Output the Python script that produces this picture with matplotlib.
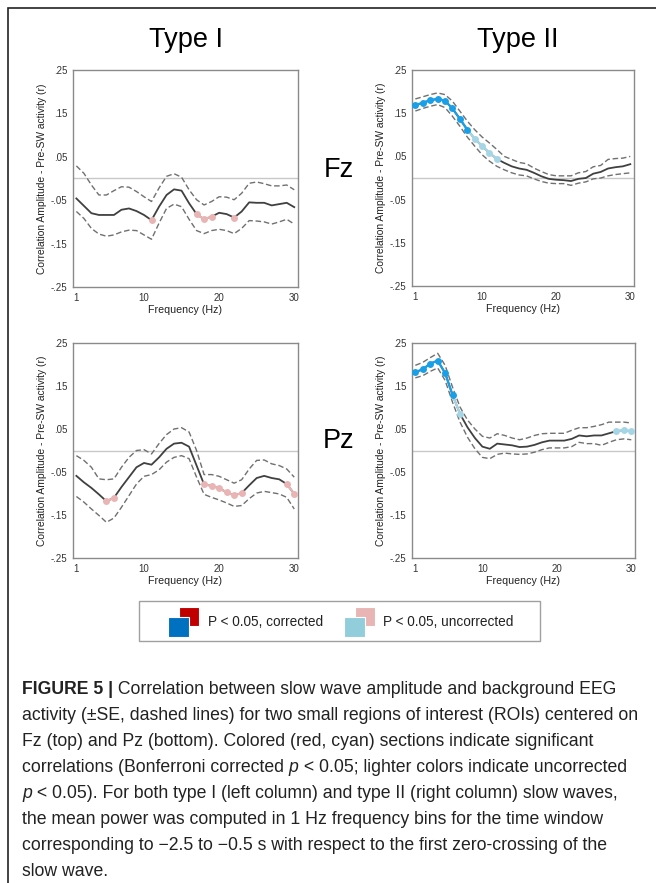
import matplotlib
matplotlib.use("Agg")
import matplotlib.pyplot as plt
from matplotlib.patches import Rectangle

plt.rcParams["font.family"] = ["Liberation Sans", "DejaVu Sans"]

W, H = 656, 883

freqs = list(range(1, 31))

# mean correlation and +/- SE bounds
fz_t1_mean = [-0.046, -0.063, -0.080, -0.084, -0.084, -0.084, -0.072, -0.069, -0.075, -0.084,
              -0.096, -0.065, -0.038, -0.025, -0.028, -0.057, -0.082, -0.094, -0.088, -0.079,
              -0.082, -0.090, -0.076, -0.055, -0.056, -0.056, -0.062, -0.059, -0.056, -0.066]
fz_t1_hi = [0.029, 0.012, -0.015, -0.038, -0.038, -0.028, -0.019, -0.020, -0.030, -0.042,
            -0.053, -0.022, 0.005, 0.011, 0.003, -0.026, -0.049, -0.061, -0.053, -0.042,
            -0.043, -0.049, -0.034, -0.011, -0.008, -0.012, -0.017, -0.017, -0.015, -0.026]
fz_t1_lo = [-0.076, -0.092, -0.115, -0.128, -0.133, -0.130, -0.123, -0.119, -0.120, -0.130,
            -0.140, -0.103, -0.069, -0.059, -0.065, -0.094, -0.120, -0.127, -0.120, -0.117,
            -0.120, -0.127, -0.115, -0.097, -0.098, -0.100, -0.105, -0.100, -0.094, -0.105]

fz_t2_mean = [0.169, 0.174, 0.180, 0.183, 0.179, 0.161, 0.137, 0.112, 0.091, 0.074,
              0.058, 0.044, 0.035, 0.027, 0.022, 0.019, 0.012, 0.004, -0.002, -0.004,
              -0.005, -0.007, -0.002, 0.000, 0.010, 0.014, 0.022, 0.025, 0.027, 0.032]
fz_t2_hi = [0.183, 0.188, 0.193, 0.197, 0.193, 0.178, 0.155, 0.132, 0.112, 0.095,
            0.081, 0.066, 0.050, 0.043, 0.036, 0.033, 0.023, 0.015, 0.008, 0.005,
            0.005, 0.005, 0.012, 0.015, 0.026, 0.029, 0.043, 0.045, 0.046, 0.050]
fz_t2_lo = [0.155, 0.161, 0.166, 0.170, 0.163, 0.143, 0.120, 0.095, 0.074, 0.054,
            0.039, 0.027, 0.019, 0.012, 0.007, 0.005, -0.002, -0.008, -0.012, -0.013,
            -0.013, -0.017, -0.012, -0.009, -0.002, 0.000, 0.005, 0.008, 0.010, 0.012]

pz_t1_mean = [-0.059, -0.074, -0.087, -0.102, -0.118, -0.110, -0.085, -0.062, -0.039, -0.029,
              -0.033, -0.016, 0.004, 0.016, 0.018, 0.009, -0.035, -0.079, -0.082, -0.088,
              -0.097, -0.104, -0.099, -0.081, -0.064, -0.059, -0.064, -0.067, -0.078, -0.101]
pz_t1_hi = [-0.012, -0.023, -0.039, -0.066, -0.068, -0.066, -0.039, -0.016, 0.000, 0.002,
            -0.008, 0.016, 0.037, 0.050, 0.053, 0.043, 0.000, -0.056, -0.056, -0.060,
            -0.068, -0.076, -0.068, -0.043, -0.023, -0.022, -0.031, -0.035, -0.043, -0.062]
pz_t1_lo = [-0.107, -0.120, -0.136, -0.151, -0.167, -0.157, -0.132, -0.105, -0.078, -0.060,
            -0.056, -0.045, -0.027, -0.016, -0.012, -0.019, -0.062, -0.102, -0.109, -0.115,
            -0.122, -0.130, -0.128, -0.112, -0.099, -0.095, -0.098, -0.101, -0.109, -0.136]

pz_t2_mean = [0.182, 0.189, 0.202, 0.209, 0.180, 0.129, 0.085, 0.054, 0.029, 0.009,
              0.004, 0.016, 0.014, 0.012, 0.008, 0.009, 0.013, 0.019, 0.023, 0.023,
              0.023, 0.027, 0.035, 0.033, 0.035, 0.035, 0.040, 0.045, 0.047, 0.045]
pz_t2_hi = [0.198, 0.205, 0.216, 0.226, 0.198, 0.147, 0.101, 0.071, 0.050, 0.033,
            0.029, 0.039, 0.035, 0.029, 0.025, 0.029, 0.035, 0.039, 0.040, 0.040,
            0.040, 0.047, 0.053, 0.053, 0.056, 0.060, 0.066, 0.066, 0.066, 0.064]
pz_t2_lo = [0.169, 0.174, 0.184, 0.192, 0.163, 0.112, 0.066, 0.031, 0.004, -0.016,
            -0.019, -0.009, -0.006, -0.008, -0.009, -0.008, -0.004, 0.002, 0.006, 0.006,
            0.006, 0.009, 0.019, 0.016, 0.016, 0.012, 0.019, 0.025, 0.027, 0.025]

# significant frequencies
fz_t1_corr, fz_t1_unc = [], [11, 17, 18, 19, 22]
fz_t2_corr, fz_t2_unc = [1, 2, 3, 4, 5, 6, 7, 8], [9, 10, 11, 12]
pz_t1_corr, pz_t1_unc = [], [5, 6, 18, 19, 20, 21, 22, 23, 29, 30]
pz_t2_corr, pz_t2_unc = [1, 2, 3, 4, 5, 6], [7, 28, 29, 30]

yticks = [0.25, 0.15, 0.05, -0.05, -0.15, -0.25]
ytick_labels = [".25", ".15", ".05", "-.05", "-.15", "-.25"]
xticks = [1, 10, 20, 30]

RED, PINK = "#c00000", "#e8b4b4"
BLUE, LIGHTBLUE = "#1a9fe6", "#a6d6e6"
LEG_BLUE, LEG_CYAN = "#0070c0", "#92cddc"

fig = plt.figure(figsize=(W / 100, H / 100), dpi=100)


def px_axes(left, top, right, bottom):
    return fig.add_axes([left / W, 1 - bottom / H, (right - left) / W, (bottom - top) / H])


def panel(box, mean, hi, lo, corr, unc, c_col, u_col):
    ax = px_axes(*box)
    ax.axhline(0, color="#c8c8c8", lw=1.0, zorder=1)
    ax.plot(freqs, hi, color="#707070", lw=1.0, ls=(0, (4, 2)), zorder=2)
    ax.plot(freqs, lo, color="#707070", lw=1.0, ls=(0, (4, 2)), zorder=2)
    ax.plot(freqs, mean, color="#404040", lw=1.3, zorder=3)
    sig = {f: c_col for f in corr}
    sig.update({f: u_col for f in unc})
    for f in sorted(sig):
        if f + 1 in sig:
            ax.plot([f, f + 1], [mean[f - 1], mean[f]], color=sig[f + 1], lw=1.6, zorder=4)
    for f, col in sig.items():
        ax.plot(f, mean[f - 1], "o", color=col, ms=5, mec="none", zorder=5)
    ax.set_xlim(0.55, 30.5)
    ax.set_ylim(-0.25, 0.25)
    ax.set_xticks(xticks)
    ax.set_yticks(yticks)
    ax.set_yticklabels(ytick_labels)
    ax.tick_params(length=0, labelsize=7, colors="#333333", pad=4)
    for s in ax.spines.values():
        s.set_color("#8a8a8a")
        s.set_linewidth(1.0)
    ax.set_xlabel("Frequency (Hz)", fontsize=7.7, color="#222222", labelpad=2)
    ax.set_ylabel("Correlation Amplitude - Pre-SW activity (r)", fontsize=7.4,
                  color="#222222", labelpad=3)
    return ax


panel((73, 70, 298, 287), fz_t1_mean, fz_t1_hi, fz_t1_lo, fz_t1_corr, fz_t1_unc, RED, PINK)
panel((412, 70, 634, 286), fz_t2_mean, fz_t2_hi, fz_t2_lo, fz_t2_corr, fz_t2_unc, BLUE, LIGHTBLUE)
panel((73, 343, 298, 558), pz_t1_mean, pz_t1_hi, pz_t1_lo, pz_t1_corr, pz_t1_unc, RED, PINK)
panel((412, 343, 635, 558), pz_t2_mean, pz_t2_hi, pz_t2_lo, pz_t2_corr, pz_t2_unc, BLUE, LIGHTBLUE)


def ftext(x, y, s, **kw):
    return fig.text(x / W, 1 - y / H, s, **kw)


ftext(186, 40, "Type I", fontsize=19.5, ha="center", va="center")
ftext(518, 40, "Type II", fontsize=19.5, ha="center", va="center")
ftext(339, 170, "Fz", fontsize=19.5, ha="center", va="center")
ftext(339, 441, "Pz", fontsize=19.5, ha="center", va="center")


def frect(x0, y0, x1, y1, **kw):
    fig.add_artist(Rectangle((x0 / W, 1 - y1 / H), (x1 - x0) / W, (y1 - y0) / H,
                             transform=fig.transFigure, **kw))


# figure frame (left and top edges visible)
frect(8, 8, 700, 950, fill=False, ec="#222222", lw=1.2)

# legend
frect(139, 601, 540, 641, fill=False, ec="#a0a0a0", lw=1.0)
frect(179, 607, 199, 626, fc=RED, ec="white", lw=0.8)
frect(168, 617, 189, 637, fc=LEG_BLUE, ec="white", lw=0.8)
frect(355, 607, 375, 626, fc=PINK, ec="white", lw=0.8)
frect(344, 617, 365, 637, fc=LEG_CYAN, ec="white", lw=0.8)
ftext(208, 622, "P < 0.05, corrected", fontsize=9.8, va="center", color="#222222")
ftext(383, 622, "P < 0.05, uncorrected", fontsize=9.8, va="center", color="#222222")

# caption
caption = [
    [("FIGURE 5 |", "bold"), (" Correlation between slow wave amplitude and background EEG", "normal")],
    [("activity (\u00b1SE, dashed lines) for two small regions of interest (ROIs) centered on", "normal")],
    [("Fz (top) and Pz (bottom). Colored (red, cyan) sections indicate significant", "normal")],
    [("correlations (Bonferroni corrected ", "normal"), ("p", "italic"),
     (" < 0.05; lighter colors indicate uncorrected", "normal")],
    [("p", "italic"), (" < 0.05). For both type I (left column) and type II (right column) slow waves,", "normal")],
    [("the mean power was computed in 1 Hz frequency bins for the time window", "normal")],
    [("corresponding to \u22122.5 to \u22120.5 s with respect to the first zero-crossing of the", "normal")],
    [("slow wave.", "normal")],
]

renderer = fig.canvas.get_renderer()
for i, pieces in enumerate(caption):
    x = 22
    y = 690 + i * 26
    for s, style in pieces:
        kw = dict(fontsize=12.7, va="center", color="#222222")
        if style == "bold":
            kw["fontweight"] = "bold"
        elif style == "italic":
            kw["fontstyle"] = "italic"
        t = ftext(x, y, s, **kw)
        x += t.get_window_extent(renderer).width

fig.savefig("out.png", dpi=100)
